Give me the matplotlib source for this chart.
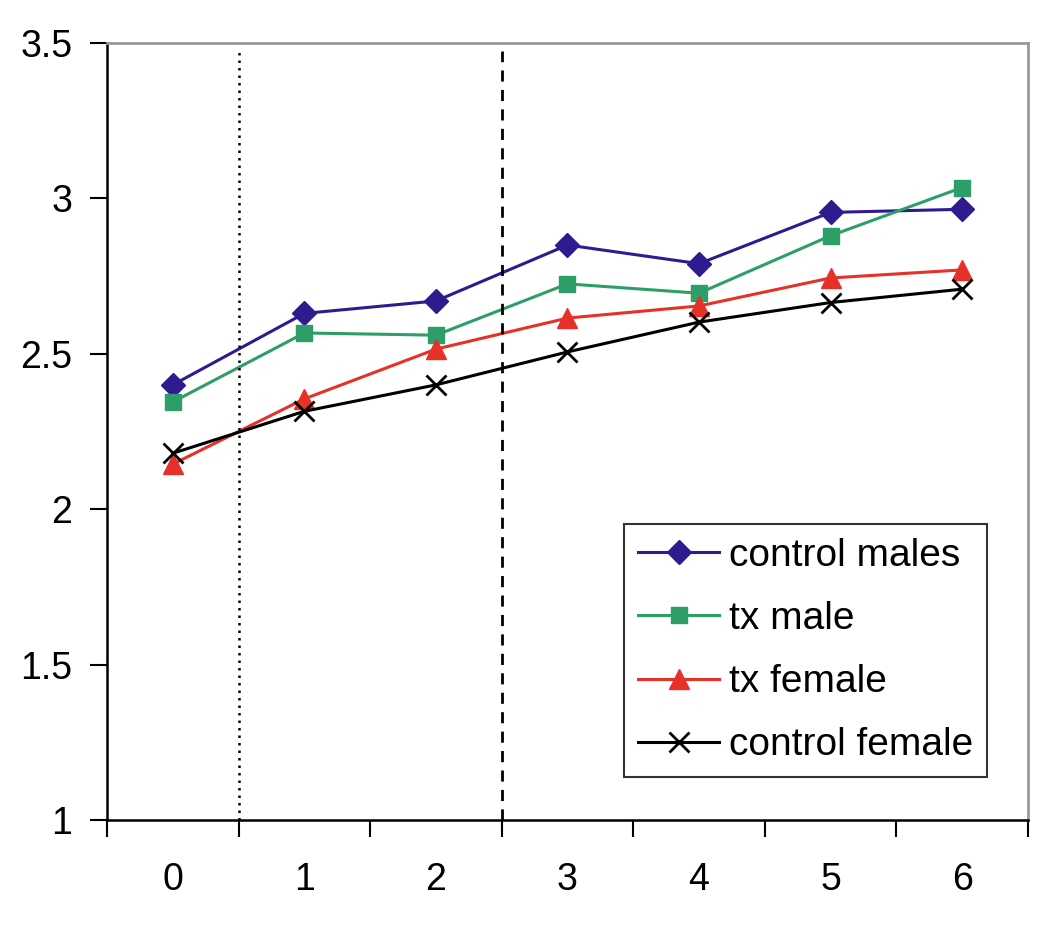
import numpy as np
import matplotlib.pyplot as plt
from matplotlib.ticker import FixedLocator

plt.rcParams['font.family'] = ['Liberation Sans', 'DejaVu Sans']

weeks = [0, 1, 2, 3, 4, 5, 6]
control_males = [2.40, 2.63, 2.67, 2.85, 2.79, 2.955, 2.965]
tx_male = [2.345, 2.567, 2.56, 2.725, 2.695, 2.88, 3.035]
tx_female = [2.145, 2.355, 2.515, 2.615, 2.654, 2.744, 2.77]
control_female = [2.18, 2.315, 2.40, 2.506, 2.602, 2.665, 2.708]

fig = plt.figure(figsize=(10.5, 9.25), dpi=100)
ax = fig.add_axes([0.1019, 0.1135, 0.8771, 0.84])

ax.plot(weeks, control_males, color='#2f1a8f', lw=2.2, marker='D', ms=12,
        label='control males')
ax.plot(weeks, tx_male, color='#2e9e68', lw=2.2, marker='s', ms=12,
        label='tx male')
ax.plot(weeks, tx_female, color='#e53127', lw=2.2, marker='^', ms=14,
        label='tx female')
ax.plot(weeks, control_female, color='black', lw=2.2, marker='x', ms=14,
        mew=2, label='control female')

# phase boundaries
ax.axvline(0.5, ymax=0.99, color='black', lw=1.8, ls=(0, (1, 2)))
ax.axvline(2.5, ymax=0.99, color='black', lw=2, ls=(0, (4, 3)))

ax.set_xlim(-0.5, 6.5)
ax.set_ylim(1, 3.5)
ax.set_yticks([1, 1.5, 2, 2.5, 3, 3.5])
ax.set_yticklabels(['1', '1.5', '2', '2.5', '3', '3.5'])

# Excel-style category axis: ticks between categories, labels centred
ax.xaxis.set_major_locator(FixedLocator(np.arange(-0.5, 7, 1)))
ax.xaxis.set_minor_locator(FixedLocator(weeks))
ax.set_xticklabels([])
ax.set_xticklabels([str(w) for w in weeks], minor=True)
ax.tick_params(axis='x', which='major', direction='out', length=12, width=1.5)
ax.tick_params(axis='x', which='minor', length=0, pad=30, labelsize=27)
ax.tick_params(axis='y', direction='out', length=12, width=1.5, pad=13,
               labelsize=27)

for s in ['left', 'bottom']:
    ax.spines[s].set_linewidth(1.8)
for s in ['top', 'right']:
    ax.spines[s].set_color('#999999')
    ax.spines[s].set_linewidth(2)

leg = ax.legend(loc='lower right', bbox_to_anchor=(0.9555, 0.0553),
                borderaxespad=0, fontsize=28, frameon=True, fancybox=False,
                edgecolor='black', handlelength=2.1, handletextpad=0.25,
                borderpad=0.35, labelspacing=0.7)
leg.get_frame().set_linewidth(1.5)

fig.savefig('out.png', dpi=100)
